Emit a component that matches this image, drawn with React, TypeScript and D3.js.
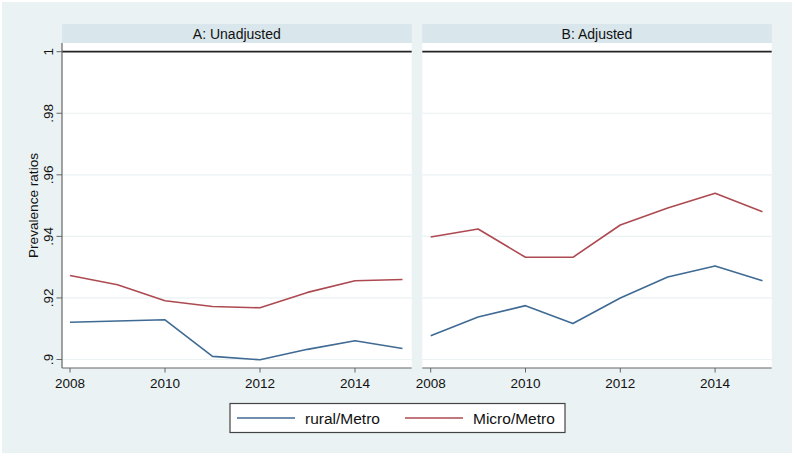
import React from "react";
import * as d3 from "d3";

const years = [2008, 2009, 2010, 2011, 2012, 2013, 2014, 2015];
const ruralUnadj = [0.9121, 0.9125, 0.9129, 0.901, 0.8999, 0.9033, 0.9061, 0.9036];
const microUnadj = [0.9273, 0.9243, 0.9191, 0.9172, 0.9168, 0.9218, 0.9256, 0.926];
const ruralAdj = [0.9077, 0.9138, 0.9175, 0.9117, 0.92, 0.9268, 0.9304, 0.9256];
const microAdj = [0.9398, 0.9424, 0.9332, 0.9332, 0.9437, 0.9492, 0.954, 0.948];
const yTicks = [0.9, 0.92, 0.94, 0.96, 0.98, 1];
const yTickLabels = [".9", ".92", ".94", ".96", ".98", "1"];
const xTicks = [2008, 2010, 2012, 2014];
const panelTitles = ["A: Unadjusted", "B: Adjusted"];
const seriesNames = ["rural/Metro", "Micro/Metro"];

const BLUE = "#3f6a93";
const RED = "#ad4a51";
const BG = "#eaf2f3";
const STRIP = "#d9e6eb";
const FONT = "Arial, 'Liberation Sans', Helvetica, sans-serif";

export default function App() {
  const W = 795, H = 456;
  const top = 43, bottom = 368;
  const y = d3.scaleLinear().domain([0.9, 1]).range([359.5, 51.7]);
  const panels = [
    { left: 62, right: 411.7, x: d3.scaleLinear().domain([2008, 2015]).range([70, 402.5]), data: [ruralUnadj, microUnadj], axis: true },
    { left: 422.3, right: 771.7, x: d3.scaleLinear().domain([2008, 2015]).range([430.7, 762.5]), data: [ruralAdj, microAdj], axis: false },
  ];
  const colors = [BLUE, RED];

  return (
    <svg width={W} height={H} style={{ position: "absolute", left: 0, top: 0, display: "block" }} fontFamily={FONT}>
      <rect x={0} y={0} width={W} height={H} fill="#ffffff" />
      <rect x={2} y={2} width={790} height={451} fill={BG} />
      {panels.map((p, pi) => {
        const line = d3
          .line<number>()
          .x((_, i) => p.x(years[i]))
          .y((v) => y(v));
        return (
          <g key={pi}>
            <rect x={p.left} y={24} width={p.right - p.left} height={top - 24} fill={STRIP} />
            <text x={(p.left + p.right) / 2} y={38.5} textAnchor="middle" fontSize={14} fill="#111">
              {panelTitles[pi]}
            </text>
            <rect x={p.left} y={top} width={p.right - p.left} height={bottom - top} fill="#ffffff" />
            {yTicks.slice(0, 5).map((t) => (
              <line key={t} x1={p.left} x2={p.right} y1={y(t)} y2={y(t)} stroke={BG} strokeWidth={1.2} />
            ))}
            <line x1={p.left} x2={p.right} y1={y(1)} y2={y(1)} stroke="#222" strokeWidth={1.8} />
            {p.data.map((s, si) => (
              <path key={si} d={line(s) || ""} fill="none" stroke={colors[si]} strokeWidth={1.6} strokeLinejoin="round" />
            ))}
            <line x1={p.left} x2={p.right} y1={bottom} y2={bottom} stroke="#666" strokeWidth={1.2} />
            {xTicks.map((t) => (
              <g key={t}>
                <line x1={p.x(t)} x2={p.x(t)} y1={bottom} y2={bottom + 4.5} stroke="#666" strokeWidth={1} />
                <text x={p.x(t)} y={388} textAnchor="middle" fontSize={13.5} fill="#111">
                  {t}
                </text>
              </g>
            ))}
            {p.axis && (
              <g>
                <line x1={p.left} x2={p.left} y1={top} y2={bottom} stroke="#666" strokeWidth={1.2} />
                {yTicks.map((t, i) => (
                  <g key={t}>
                    <line x1={p.left - 5.5} x2={p.left} y1={y(t)} y2={y(t)} stroke="#666" strokeWidth={1} />
                    <text
                      transform={`translate(${p.left - 9},${y(t)}) rotate(-90)`}
                      textAnchor="middle"
                      fontSize={13.5}
                      fill="#111"
                    >
                      {yTickLabels[i]}
                    </text>
                  </g>
                ))}
                <text transform={`translate(37.5,${(153 + 258) / 2}) rotate(-90)`} textAnchor="middle" fontSize={13.6} fill="#111">
                  Prevalence ratios
                </text>
              </g>
            )}
          </g>
        );
      })}
      <rect x={230} y={403.5} width={335} height={29} fill="#ffffff" stroke="#444" strokeWidth={1.2} />
      <line x1={237} x2={295} y1={418} y2={418} stroke={BLUE} strokeWidth={1.6} />
      <text x={305} y={423.5} fontSize={15.5} fill="#111">{seriesNames[0]}</text>
      <line x1={405} x2={463} y1={418} y2={418} stroke={RED} strokeWidth={1.6} />
      <text x={473} y={423.5} fontSize={15.5} fill="#111">{seriesNames[1]}</text>
    </svg>
  );
}
